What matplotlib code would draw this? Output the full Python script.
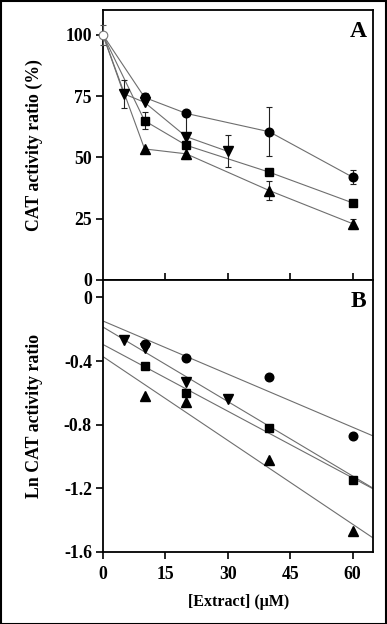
import numpy as np
import matplotlib
matplotlib.use("Agg")
import matplotlib.pyplot as plt
from matplotlib.patches import Rectangle

plt.rcParams['font.family'] = ['Liberation Serif', 'DejaVu Serif']
plt.rcParams['font.weight'] = 'bold'

# ---------------- Panel A data (CAT activity ratio, %) ----------------
ctrl_x = [0]
ctrl_y = [100]
ctrl_err = [4]

circ_x = [0, 10, 20, 40, 60]
circ_y = [100, 74.5, 68, 60.5, 42]
circ_err = [0, 2, 0, 10, 3]

itri_x = [0, 5, 10, 20, 30]
itri_y = [100, 76, 72.5, 58.5, 52.5]
itri_err = [0, 5.8, 0, 9, 6.5]

sq_x = [0, 10, 20, 40, 60]
sq_y = [100, 65, 55, 44, 31.5]
sq_err = [0, 3.5, 0, 0, 0]

tri_x = [0, 10, 20, 40, 60]
tri_y = [100, 53.5, 51.5, 36.5, 23]
tri_err = [0, 0, 0, 3.8, 2]

# ---------------- Panel B data (Ln CAT activity ratio) ----------------
lcirc_x = [10, 20, 40, 60]
lcirc_y = [-0.29, -0.38, -0.50, -0.87]
litri_x = [5, 10, 20, 30]
litri_y = [-0.27, -0.32, -0.53, -0.64]
lsq_x = [10, 20, 40, 60]
lsq_y = [-0.43, -0.60, -0.82, -1.15]
ltri_x = [10, 20, 40, 60]
ltri_y = [-0.62, -0.66, -1.02, -1.47]

a_yticks = [0, 25, 50, 75, 100]
b_yticks = [0, -0.4, -0.8, -1.2, -1.6]
b_ytick_labels = ['0', '-0.4', '-0.8', '-1.2', '-1.6']
xticks = [0, 15, 30, 45, 60]

W, H = 387, 624
fig = plt.figure(figsize=(W / 100, H / 100), dpi=100)

L, R = 103, 373.3
topA, mid, botB = 10, 280, 552
axA = fig.add_axes([L / W, (H - mid) / H, (R - L) / W, (mid - topA) / H])
axB = fig.add_axes([L / W, (H - botB) / H, (R - L) / W, (botB - mid) / H])

line_c = '#6e6e6e'
ms = 6.2
fs_tick = 12.8
fs_lab = 12.8
series = [
    (circ_x, circ_y, circ_err, 'o', ms),
    (itri_x, itri_y, itri_err, 'v', ms + 0.8),
    (sq_x, sq_y, sq_err, 's', ms),
    (tri_x, tri_y, tri_err, '^', ms + 0.8),
]
for x, y, e, m, s in series:
    axA.plot(x, y, '-', color=line_c, lw=0.8, zorder=2)
    xe = [xx for xx, ee in zip(x, e) if ee > 0]
    ye = [yy for yy, ee in zip(y, e) if ee > 0]
    ee_ = [ee for ee in e if ee > 0]
    if xe:
        axA.errorbar(xe, ye, yerr=ee_, fmt='none', ecolor='#222222',
                     elinewidth=0.8, capsize=2.5, capthick=0.8, zorder=3)
    axA.plot(x[1:], y[1:], linestyle='none', marker=m, ms=s,
             color='black', zorder=4)
axA.errorbar(ctrl_x, ctrl_y, yerr=ctrl_err, fmt='o', mfc='white',
             mec='#777777', ms=ms, ecolor='#555555', elinewidth=0.8,
             capsize=2.5, capthick=0.8, mew=0.8, zorder=5, clip_on=False)

axA.set_xlim(0, 65)
axA.set_ylim(0, 110.2)
axA.set_yticks(a_yticks)
axA.set_yticklabels([str(t) for t in a_yticks])
axA.set_xticks(xticks[1:])
axA.set_xticklabels([])
axA.tick_params(axis='x', direction='in', length=5, width=1.2)
axA.tick_params(axis='y', direction='out', length=5, width=1.2,
                labelsize=fs_tick, pad=3)
axA.set_ylabel('CAT activity ratio (%)', fontsize=fs_lab, fontweight='bold')
axA.yaxis.set_label_coords(-0.222, 0.5)
axA.text(0.975, 0.958, 'A', transform=axA.transAxes, ha='right', va='top',
         fontsize=17, fontweight='bold')

# Panel B
bser = [
    (lcirc_x, lcirc_y, 'o', ms),
    (litri_x, litri_y, 'v', ms + 0.8),
    (lsq_x, lsq_y, 's', ms),
    (ltri_x, ltri_y, '^', ms + 0.8),
]
xfit = np.array([0, 65])
for x, y, m, s in bser:
    k, b = np.polyfit(x, y, 1)
    axB.plot(xfit, k * xfit + b, '-', color=line_c, lw=0.8, zorder=2)
    axB.plot(x, y, linestyle='none', marker=m, ms=s, color='black', zorder=4)

axB.set_xlim(0, 65)
axB.set_ylim(-1.6, 0.109)
axB.set_yticks(b_yticks)
axB.set_yticklabels(b_ytick_labels)
axB.set_xticks(xticks)
axB.set_xticklabels([str(t) for t in xticks])
axB.tick_params(direction='out', length=5, width=1.2, labelsize=fs_tick, pad=3)
axB.tick_params(axis='x', pad=5)
axB.set_ylabel('Ln CAT activity ratio', fontsize=fs_lab, fontweight='bold')
axB.yaxis.set_label_coords(-0.222, 0.5)
axB.set_xlabel('[Extract] (μM)', fontsize=11.5, fontweight='bold', labelpad=8)
axB.text(0.975, 0.958, 'B', transform=axB.transAxes, ha='right', va='top',
         fontsize=17, fontweight='bold')

for ax in (axA, axB):
    for sp in ax.spines.values():
        sp.set_linewidth(1.3)
    for lab in ax.get_xticklabels() + ax.get_yticklabels():
        lab.set_fontweight('bold')

fig.patches.append(Rectangle((0.5 / W, 0.5 / H), (W - 1.5) / W, (H - 1.5) / H,
                             transform=fig.transFigure, fill=False,
                             edgecolor='black', lw=1.5))

fig.savefig('out.png', dpi=100)
